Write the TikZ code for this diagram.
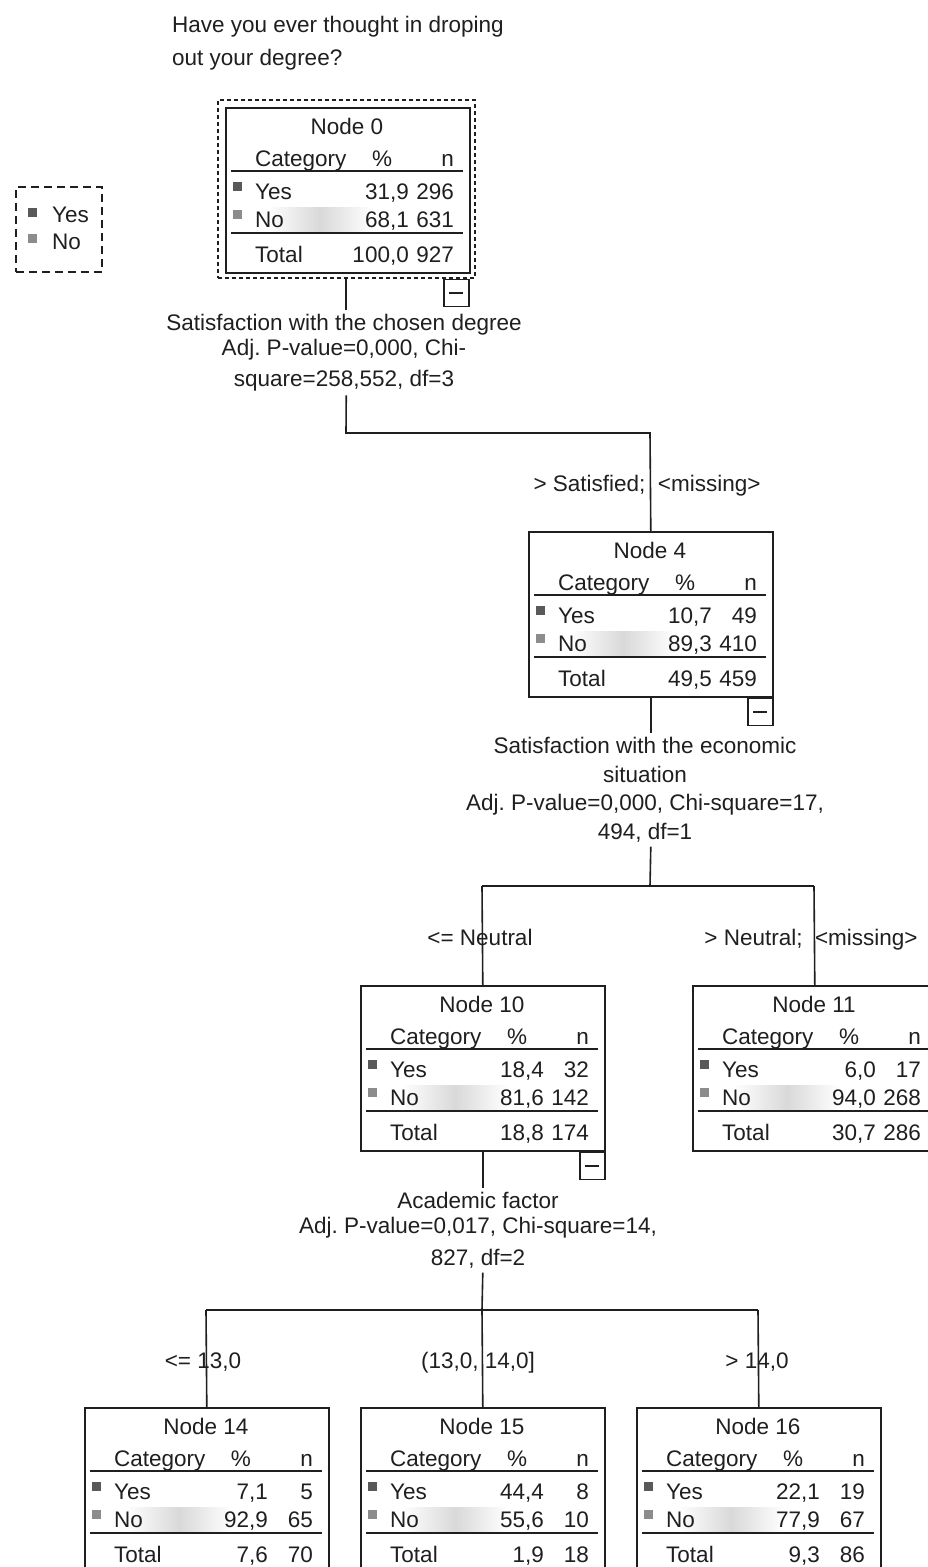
\documentclass[tikz,border=0pt]{standalone}
\usepackage{fontspec}
\setmainfont{Liberation Sans}
\newcommand\fs{\fontsize{22.5}{25}\selectfont\frenchspacing}
\colorlet{yesc}{black!65}
\colorlet{noc}{black!45}
\colorlet{ink}{black!88}
\newcommand\treebox[8]{%
  \begin{scope}[shift={(#2)}]
    \node[tbox] (n#1) at (0,0) {};
    \shade[left color=white, right color=white, middle color=black!15] (42,100) rectangle (148,124);
    \node[txt] (n#1-title) at (122,19) {Node #1};
    \node[txt,anchor=west] (n#1-cat) at (30,51) {Category};
    \node[txt] (n#1-pct) at (157,51) {\%};
    \node[txt,anchor=east] (n#1-n) at (229,51) {n};
    \draw[rule] (6,64) -- (238,64);
    \fill[yesc] (8,75) rectangle (17,84);
    \node[txt,anchor=west] (n#1-yes) at (30,84) {Yes};
    \node[txt,anchor=east] (n#1-yp) at (184,84) {#3};
    \node[txt,anchor=east] (n#1-yn) at (229,84) {#4};
    \fill[noc] (8,103) rectangle (17,112);
    \node[txt,anchor=west] (n#1-no) at (30,112) {No};
    \node[txt,anchor=east] (n#1-np) at (184,112) {#5};
    \node[txt,anchor=east] (n#1-nn) at (229,112) {#6};
    \draw[rule] (6,126) -- (238,126);
    \node[txt,anchor=west] (n#1-tot) at (30,147) {Total};
    \node[txt,anchor=east] (n#1-tp) at (184,147) {#7};
    \node[txt,anchor=east] (n#1-tn) at (229,147) {#8};
  \end{scope}}
\begin{document}
\begin{tikzpicture}[x=1pt,y=-1pt,
  txt/.style={inner sep=0pt, text height=16pt, text depth=0pt, font=\fs, text=ink},
  lbl/.style={inner sep=4pt, align=center, font=\fs, text=ink},
  tbox/.style={draw=ink, line width=1.6pt, minimum width=244pt, minimum height=165pt, inner sep=0pt, anchor=north west},
  rule/.style={draw=ink, line width=1.5pt},
  conn/.style={draw=ink, line width=1.6pt},
  minusbox/.style={draw=ink, line width=1.5pt, minimum width=25pt, minimum height=27pt, inner sep=0pt,
    path picture={\draw[line width=1.5pt] ([xshift=-7pt]path picture bounding box.center) -- ([xshift=7pt]path picture bounding box.center);}}]
\useasboundingbox (0,0) rectangle (928,1567);
\fill[white] (0,0) rectangle (928,1567);
\clip (0,0) rectangle (928,1567);

% title
\node[lbl, align=left, anchor=north west] (title) at (168,12) {Have you ever thought in droping\\[8pt]out your degree?};

% legend
\node[draw=ink, line width=1.5pt, dash pattern=on 8pt off 5pt, minimum width=86pt, minimum height=85pt, inner sep=0pt, anchor=north west] (leg) at (15,186) {};
\fill[yesc] (28,208) rectangle (37,217);
\node[txt,anchor=west] (leg-yes) at (52,214) {Yes};
\fill[noc] (28,234) rectangle (37,243);
\node[txt,anchor=west] (leg-no) at (52,241) {No};

% nodes
\node[draw=ink, line width=1.5pt, dash pattern=on 4pt off 3pt, minimum width=257pt, minimum height=178pt, inner sep=0pt, anchor=north west] (n0o) at (217,99) {};
\treebox{0}{225,107}{31,9}{296}{68,1}{631}{100,0}{927}
\treebox{4}{528,531}{10,7}{49}{89,3}{410}{49,5}{459}
\treebox{10}{360,985}{18,4}{32}{81,6}{142}{18,8}{174}
\treebox{11}{692,985}{6,0}{17}{94,0}{268}{30,7}{286}
\treebox{14}{84,1407}{7,1}{5}{92,9}{65}{7,6}{70}
\treebox{15}{360,1407}{44,4}{8}{55,6}{10}{1,9}{18}
\treebox{16}{636,1407}{22,1}{19}{77,9}{67}{9,3}{86}

% minus boxes
\node[minusbox, anchor=north east] (m0) at ([xshift=-6pt]n0o.south east) {};
\node[minusbox, anchor=north east] (m4) at (n4.south east) {};
\node[minusbox, anchor=north east] (m10) at (n10.south east) {};

% split labels
\node[lbl, anchor=north] (lab0) at (344,310) {Satisfaction with the chosen degree\\Adj. P-value=0,000, Chi-\\[6pt]square=258,552, df=3};
\node[lbl, anchor=north] (lab4) at (645,733) {Satisfaction with the economic\\[4pt]situation\\[3pt]Adj. P-value=0,000, Chi-square=17,\\[4pt]494, df=1};
\node[lbl, anchor=north] (lab10) at (478,1188) {Academic factor\\Adj. P-value=0,017, Chi-square=14,\\[7pt]827, df=2};

% junctions
\coordinate (j0) at (346,433);
\coordinate (j0r) at (650,433);
\coordinate (j4) at (650,886);
\coordinate (j4l) at (482,886);
\coordinate (j4r) at (814,886);
\coordinate (j10) at (482,1310);
\coordinate (j10l) at (206,1310);
\coordinate (j10r) at (758,1310);

% connectors
\draw[conn] (n0o.south) -- (n0o.south |- lab0.north);
\draw[conn] (n0o.south |- lab0.south) -- (j0) -- (j0r) -- (n4.north);
\draw[conn] (n4.south) -- (n4.south |- lab4.north);
\draw[conn] (n4.south |- lab4.south) -- (j4);
\draw[conn] (j4l) -- (j4r);
\draw[conn] (j4l) -- (n10.north);
\draw[conn] (j4r) -- (n11.north);
\draw[conn] (n10.south) -- (n10.south |- lab10.north);
\draw[conn] (n10.south |- lab10.south) -- (j10);
\draw[conn] (j10l) -- (j10r);
\draw[conn] (j10l) -- (n14.north);
\draw[conn] (j10) -- (n15.north);
\draw[conn] (j10r) -- (n16.north);

% branch labels
\node[txt] (b4) at (647,483) {> Satisfied;~~<missing>};
\node[txt] (b10) at (480,937) {<= Neutral};
\node[txt] (b11) at (811,937) {> Neutral;~~<missing>};
\node[txt] (b14) at (203,1360) {<= 13,0};
\node[txt] (b15) at (478,1360) {(13,0, 14,0]};
\node[txt] (b16) at (757,1360) {> 14,0};
\end{tikzpicture}
\end{document}
